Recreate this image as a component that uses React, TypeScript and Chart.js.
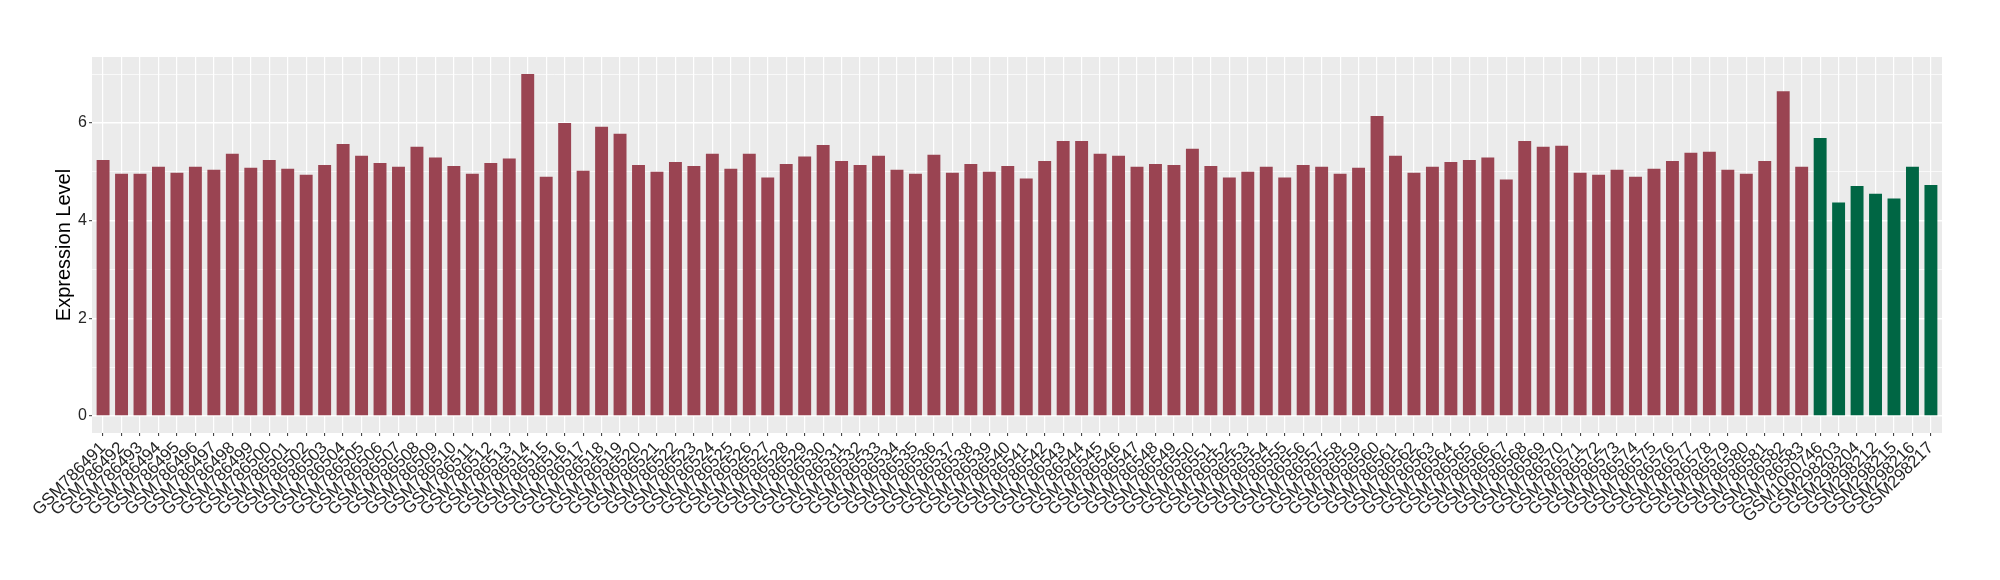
import React, { useEffect, useRef } from "react";
import { Chart, registerables } from "chart.js";

Chart.register(...registerables);

const redSamples = [
  "GSM786491","GSM786492","GSM786493","GSM786494","GSM786495","GSM786496","GSM786497","GSM786498","GSM786499","GSM786500",
  "GSM786501","GSM786502","GSM786503","GSM786504","GSM786505","GSM786506","GSM786507","GSM786508","GSM786509","GSM786510",
  "GSM786511","GSM786512","GSM786513","GSM786514","GSM786515","GSM786516","GSM786517","GSM786518","GSM786519","GSM786520",
  "GSM786521","GSM786522","GSM786523","GSM786524","GSM786525","GSM786526","GSM786527","GSM786528","GSM786529","GSM786530",
  "GSM786531","GSM786532","GSM786533","GSM786534","GSM786535","GSM786536","GSM786537","GSM786538","GSM786539","GSM786540",
  "GSM786541","GSM786542","GSM786543","GSM786544","GSM786545","GSM786546","GSM786547","GSM786548","GSM786549","GSM786550",
  "GSM786551","GSM786552","GSM786553","GSM786554","GSM786555","GSM786556","GSM786557","GSM786558","GSM786559","GSM786560",
  "GSM786561","GSM786562","GSM786563","GSM786564","GSM786565","GSM786566","GSM786567","GSM786568","GSM786569","GSM786570",
  "GSM786571","GSM786572","GSM786573","GSM786574","GSM786575","GSM786576","GSM786577","GSM786578","GSM786579","GSM786580",
  "GSM786581","GSM786582","GSM786583",
];
const greenSamples = ["GSM1060746","GSM298203","GSM298204","GSM298212","GSM298215","GSM298216","GSM298217"];

const redValues = [
  5.24,4.96,4.96,5.10,4.98,5.10,5.04,5.37,5.08,5.24,5.06,4.94,5.14,5.57,5.33,5.18,5.10,5.51,5.29,5.12,4.96,5.18,
  5.27,7.00,4.90,6.00,5.02,5.92,5.78,5.14,5.00,5.20,5.12,5.37,5.06,5.37,4.88,5.16,5.31,5.55,5.22,5.14,5.33,5.04,4.96,5.35,4.98,
  5.16,5.00,5.12,4.86,5.22,5.63,5.63,5.37,5.33,5.10,5.16,5.14,5.47,5.12,4.88,5.00,5.10,4.88,5.14,5.10,4.96,5.08,6.14,5.33,
  4.98,5.10,5.20,5.24,5.29,4.84,5.63,5.51,5.53,4.98,4.94,5.04,4.90,5.06,5.22,5.39,5.41,5.04,4.96,5.22,6.65,5.10,
];
const greenValues = [5.69,4.37,4.71,4.55,4.45,5.10,4.73];

const yTickValues = [0, 1, 2, 3, 4, 5, 6, 7];
const yTitle = "Expression Level";

const RED = "#9A4452";
const GREEN = "#006644";

export default function App() {
  const canvasRef = useRef<HTMLCanvasElement | null>(null);

  useEffect(() => {
    const labels = [...redSamples, ...greenSamples];
    const values = [...redValues, ...greenValues];
    const colors = [...redSamples.map(() => RED), ...greenSamples.map(() => GREEN)];
    const data = values.map((v, i) => ({ x: i, y: v }));
    const FONT = "'Liberation Sans', Arial, sans-serif";

    const panelBg = {
      id: "panelBg",
      beforeDraw(chart: any) {
        const { ctx, chartArea } = chart;
        ctx.save();
        ctx.fillStyle = "#EBEBEB";
        ctx.fillRect(chartArea.left, chartArea.top, chartArea.right - chartArea.left, chartArea.bottom - chartArea.top);
        ctx.restore();
      },
      afterDraw(chart: any) {
        const { ctx, chartArea } = chart;
        ctx.save();
        ctx.fillStyle = "#000000";
        ctx.font = `20px ${FONT}`;
        ctx.textAlign = "center";
        ctx.textBaseline = "middle";
        ctx.translate(64, (chartArea.top + chartArea.bottom) / 2);
        ctx.rotate(-Math.PI / 2);
        ctx.fillText(yTitle, 0, 0);
        ctx.restore();
      },
    };

    const chart = new Chart(canvasRef.current as HTMLCanvasElement, {
      type: "bar",
      data: {
        datasets: [
          {
            data: data as any,
            backgroundColor: colors,
            borderWidth: 0,
            barPercentage: 0.7,
            categoryPercentage: 1,
          },
        ],
      },
      plugins: [panelBg],
      options: {
        animation: false,
        responsive: false,
        maintainAspectRatio: false,
        layout: { padding: { left: 0, top: 57, right: 58, bottom: 0 } },
        plugins: { legend: { display: false }, tooltip: { enabled: false } },
        scales: {
          x: {
            type: "linear",
            offset: false,
            min: -0.6,
            max: labels.length - 1 + 0.6,
            afterBuildTicks: (scale: any) => {
              scale.ticks = labels.map((_, i) => ({ value: i }));
            },
            afterFit: (scale: any) => {
              scale.height = 147;
            },
            border: { display: false },
            grid: {
              offset: false,
              color: "#FFFFFF",
              lineWidth: 1.2,
              drawTicks: true,
              tickLength: 3,
              tickColor: "#333333",
              tickWidth: 1,
            },
            ticks: {
              autoSkip: false,
              minRotation: 45,
              maxRotation: 45,
              padding: 2,
              color: "#262626",
              font: { size: 17, family: FONT },
              callback: (v: any) => labels[v as number] ?? "",
            },
          },
          y: {
            type: "linear",
            min: -0.35,
            max: 7.35,
            afterBuildTicks: (scale: any) => {
              scale.ticks = yTickValues.map((v) => ({ value: v }));
            },
            afterFit: (scale: any) => {
              scale.width = 92;
            },
            border: { display: false },
            grid: {
              color: "#FFFFFF",
              lineWidth: (ctx: any) => (ctx.tick && ctx.tick.value % 2 === 0 ? 1.4 : 0.7),
              drawTicks: true,
              tickLength: 3,
              tickColor: (ctx: any) => (ctx.tick && ctx.tick.value % 2 === 0 ? "#333333" : "rgba(0,0,0,0)"),
              tickWidth: 1,
            },
            ticks: {
              padding: 2,
              color: "#262626",
              font: { size: 16, family: FONT },
              callback: (v: any) => (Number(v) % 2 === 0 ? String(v) : ""),
            },
          },
        },
      },
    } as any);

    return () => chart.destroy();
  }, []);

  return (
    <div style={{ position: "absolute", left: 0, top: 0, width: 2000, height: 580, background: "#FFFFFF" }}>
      <canvas ref={canvasRef} width={2000} height={580} style={{ display: "block" }} />
    </div>
  );
}
